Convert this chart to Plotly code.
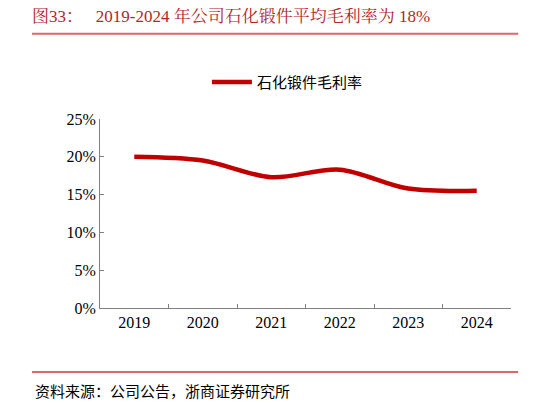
import plotly.graph_objects as go

# 石化锻件毛利率
years = ['2019', '2020', '2021', '2022', '2023', '2024']
margin = [0.200, 0.195, 0.173, 0.183, 0.158, 0.155]
y_ticks = [0, 0.05, 0.10, 0.15, 0.20, 0.25]
y_labels = ['0%', '5%', '10%', '15%', '20%', '25%']

serif = "Times New Roman, Liberation Serif, Noto Serif CJK SC, Noto Sans CJK SC, serif"

fig = go.Figure(
    go.Scatter(
        x=years,
        y=margin,
        mode='lines',
        line=dict(color='#C00000', width=4.5, shape='spline', smoothing=0.9),
        name='石化锻件毛利率'
    )
)

# page body adds an 8px offset, so margins are shifted to compensate
fig.update_layout(
    width=548,
    height=403,
    margin=dict(l=92, r=45, t=111, b=103, autoexpand=False),
    paper_bgcolor='white',
    plot_bgcolor='white',
    font=dict(family=serif, size=16, color='black'),
    showlegend=True,
    legend=dict(
        orientation='h', xref='container', yref='container',
        x=0.363, xanchor='left', y=0.816, yanchor='middle',
        font=dict(size=15, family="Noto Sans CJK SC"),
        itemwidth=40
    ),
    xaxis=dict(
        type='category',
        showline=True, linecolor='#808080', linewidth=1,
        ticks='inside', tickson='boundaries', ticklen=4, tickcolor='#808080',
        showgrid=False, range=[-0.5, 5.5],
        tickfont=dict(size=16)
    ),
    yaxis=dict(
        range=[0, 0.25],
        tickvals=y_ticks, ticktext=y_labels,
        showline=True, linecolor='#808080', linewidth=1,
        ticks='inside', ticklen=4, tickcolor='#808080',
        showgrid=False, zeroline=False,
        tickfont=dict(size=16)
    ),
    shapes=[
        dict(type='line', xref='paper', yref='paper', x0=-0.1655, x1=1.0175, y0=1.4504, y1=1.4504,
             line=dict(color='#D9676B', width=2)),
        dict(type='line', xref='paper', yref='paper', x0=-0.1655, x1=1.0175, y0=-0.3387, y1=-0.3387,
             line=dict(color='#D9676B', width=2)),
    ],
    annotations=[
        dict(text='图33：   2019-2024 年公司石化锻件平均毛利率为 18%', xref='paper', yref='paper',
             x=-0.17, y=1.545, xanchor='left', yanchor='middle', showarrow=False,
             font=dict(size=17, color='#B2262B', family=serif)),
        dict(text='资料来源：公司公告，浙商证券研究所', xref='paper', yref='paper',
             x=-0.163, y=-0.435, xanchor='left', yanchor='middle', showarrow=False,
             font=dict(size=15, color='black', family="Noto Sans CJK SC")),
    ]
)

fig.write_html("out.html")
